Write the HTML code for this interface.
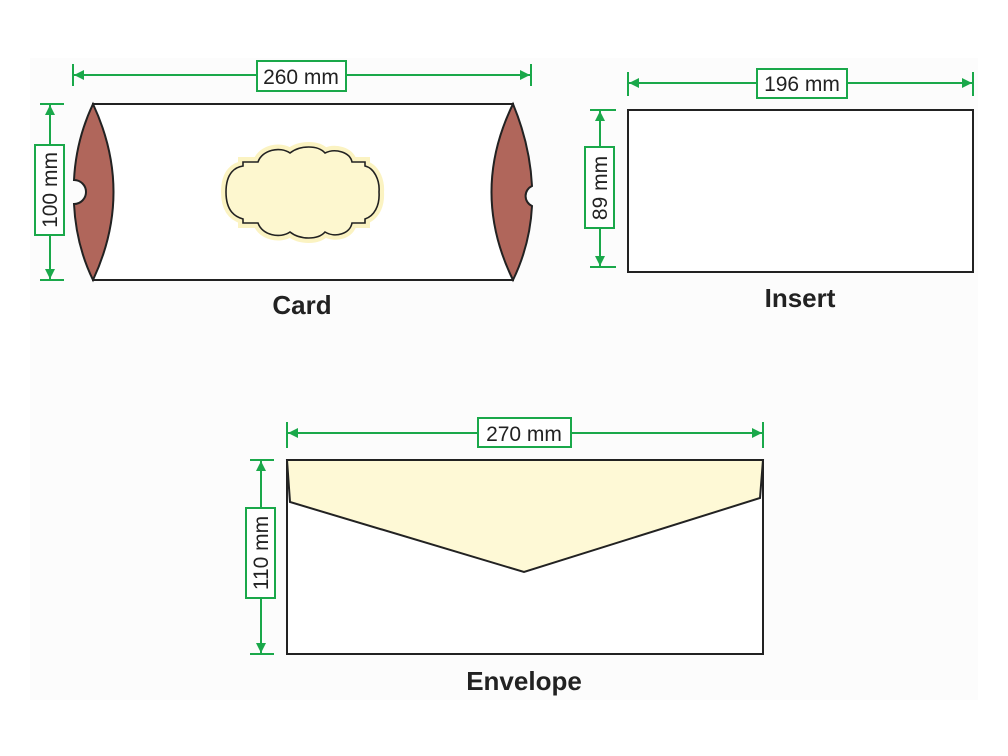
<!DOCTYPE html>
<html><head><meta charset="utf-8"><style>
html,body{margin:0;padding:0;background:#fff;}
svg{display:block;}
text{font-family:"Liberation Sans",sans-serif;}
</style></head><body>
<svg width="1008" height="756" viewBox="0 0 1008 756" xmlns="http://www.w3.org/2000/svg">
<defs>
<marker id="a" viewBox="0 0 10 10" refX="10" refY="5" markerWidth="12" markerHeight="10" markerUnits="userSpaceOnUse" orient="auto-start-reverse"><path d="M0,0 L10,5 L0,10 Z" fill="#1aa84a"/></marker>
</defs>
<rect x="30" y="58" width="948" height="642" fill="#fcfcfc"/>
<g stroke="#1aa84a" stroke-width="2" fill="none">
<line x1="73" y1="64" x2="73" y2="86"/><line x1="531" y1="64" x2="531" y2="86"/>
<line x1="74" y1="75" x2="530" y2="75" marker-start="url(#a)" marker-end="url(#a)"/>
<line x1="40" y1="104" x2="64" y2="104"/><line x1="40" y1="280" x2="64" y2="280"/>
<line x1="50" y1="105" x2="50" y2="279" marker-start="url(#a)" marker-end="url(#a)"/>
<line x1="628" y1="72" x2="628" y2="96"/><line x1="973" y1="72" x2="973" y2="96"/>
<line x1="629" y1="83" x2="972" y2="83" marker-start="url(#a)" marker-end="url(#a)"/>
<line x1="590" y1="110" x2="616" y2="110"/><line x1="590" y1="267" x2="616" y2="267"/>
<line x1="600" y1="111" x2="600" y2="266" marker-start="url(#a)" marker-end="url(#a)"/>
<line x1="287" y1="422" x2="287" y2="448"/><line x1="763" y1="422" x2="763" y2="448"/>
<line x1="288" y1="433" x2="762" y2="433" marker-start="url(#a)" marker-end="url(#a)"/>
<line x1="250" y1="460" x2="274" y2="460"/><line x1="250" y1="654" x2="274" y2="654"/>
<line x1="261" y1="461" x2="261" y2="653" marker-start="url(#a)" marker-end="url(#a)"/>
</g>
<g fill="#fff" stroke="#1aa84a" stroke-width="2">
<rect x="257" y="61" width="89" height="30"/>
<rect x="35" y="145" width="29" height="90"/>
<rect x="757" y="69" width="90" height="29"/>
<rect x="585" y="147" width="29" height="81"/>
<rect x="478" y="418" width="93" height="29"/>
<rect x="246" y="508" width="29" height="90"/>
</g>
<g font-size="21" fill="#222" text-anchor="middle">
<text x="301" y="84">260 mm</text>
<text x="802" y="91">196 mm</text>
<text x="524" y="441">270 mm</text>
<text transform="translate(57,190) rotate(-90)">100 mm</text>
<text transform="translate(607,188) rotate(-90)">89 mm</text>
<text transform="translate(268,553) rotate(-90)">110 mm</text>
</g>
<rect x="93" y="104" width="420" height="176" fill="#fff" stroke="#222" stroke-width="2"/>
<path d="M93,104 Q76,140 74,180 A12,12 0 0 1 74,204 Q76,245 93,280 Q134,192 93,104 Z" fill="#b0665b" stroke="#222" stroke-width="2"/>
<path d="M513,104 Q530,145 532,186 A11,11 0 0 0 532,206 Q530,245 513,280 Q470,192 513,104 Z" fill="#b0665b" stroke="#222" stroke-width="2"/>
<path d="M226,192 C226,172 236,167 243,166 L243,162 L258,162 C262,150 280,146 290,153 C300,145 318,145 325,153 C335,148 350,152 352,162 L365,162 L365,166 C374,168 380,180 379,192 C380,206 374,216 365,219 L365,223 L352,223 C350,234 335,238 325,232 C318,240 300,240 290,232 C280,239 262,235 258,223 L243,223 L243,219 C236,217 226,212 226,192 Z" fill="#fdf7c6" stroke="#fbf3c2" stroke-width="10"/>
<path d="M226,192 C226,172 236,167 243,166 L243,162 L258,162 C262,150 280,146 290,153 C300,145 318,145 325,153 C335,148 350,152 352,162 L365,162 L365,166 C374,168 380,180 379,192 C380,206 374,216 365,219 L365,223 L352,223 C350,234 335,238 325,232 C318,240 300,240 290,232 C280,239 262,235 258,223 L243,223 L243,219 C236,217 226,212 226,192 Z" fill="#fdf7cf" stroke="#222" stroke-width="1.6"/>
<rect x="628" y="110" width="345" height="162" fill="#fff" stroke="#222" stroke-width="2"/>
<rect x="287" y="460" width="476" height="194" fill="#fff" stroke="#222" stroke-width="2"/>
<path d="M287,460 L290,502 L524,572 L760,498 L763,460 Z" fill="#fef9d6" stroke="#222" stroke-width="2"/>
<g font-size="26" font-weight="bold" fill="#222" text-anchor="middle">
<text x="302" y="314">Card</text>
<text x="800" y="307">Insert</text>
<text x="524" y="690">Envelope</text>
</g>
</svg>
</body></html>
